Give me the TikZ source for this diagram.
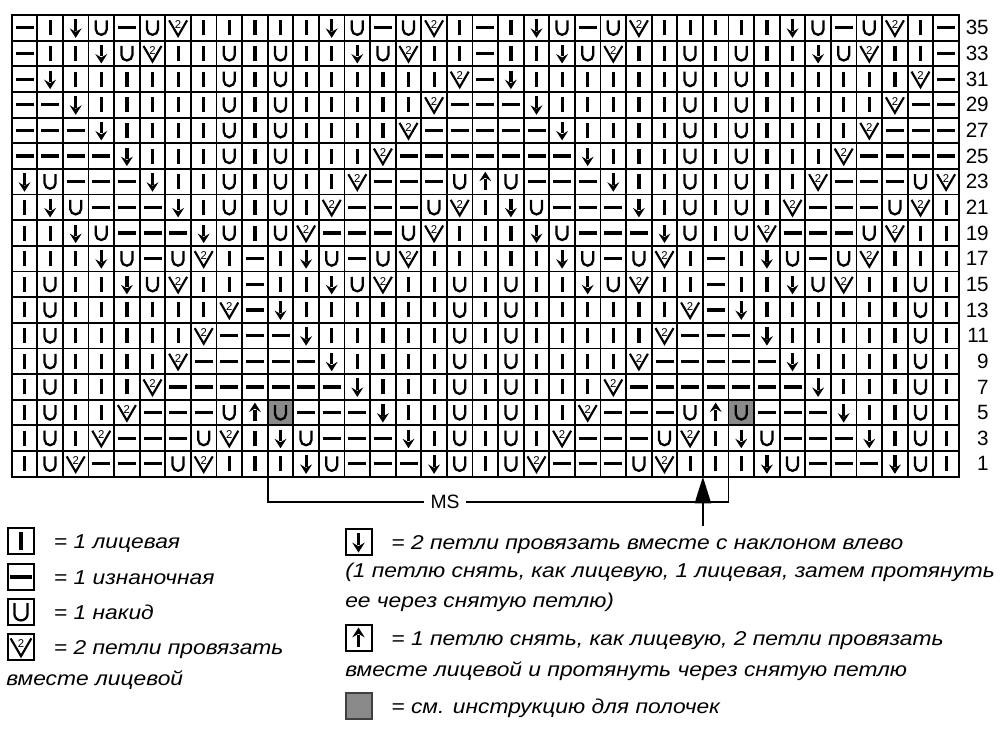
\documentclass[tikz,border=0pt]{standalone}
\usepackage{fontspec}
\setmainfont{Liberation Sans}
\newfontfamily\legendfont{Liberation Sans}[FakeStretch=1.14]
\usetikzlibrary{arrows.meta,positioning}
\definecolor{cellgray}{RGB}{138,138,138}

\begin{document}
\begin{tikzpicture}[x=0.75pt,y=0.75pt,
  gridline/.style={line width=1.4pt},
  knitline/.style={line width=2.4pt},
  yoline/.style={line width=1.7pt},
  decline/.style={line width=1.6pt},
  digit/.style={inner sep=0pt,font=\fontsize{8.5pt}{8.5pt}\selectfont},
  rownum/.style={anchor=east,inner sep=0pt,font=\fontsize{15.5pt}{15.5pt}\selectfont},
  mslabel/.style={inner xsep=5pt,inner ysep=0pt,font=\fontsize{14.5pt}{14.5pt}\selectfont},
  bracket/.style={line width=1.3pt},
  pointer/.style={line width=2pt,-{Triangle[length=20pt,width=12pt]}},
  legbox/.style={draw,line width=1.5pt,minimum size=19.5pt,inner sep=0pt},
  graybox/.style={legbox,fill=cellgray,draw=black!75},
  legtext/.style={inner sep=0pt,text height=10.7pt,text depth=0pt,
    font=\fontsize{15pt}{18pt}\legendfont\itshape},
  % stitch symbols
  stk/.pic={\draw[knitline] (0,-7.5) -- (0,7.5);},
  stp/.pic={\draw[knitline] (-9,0) -- (9,0);},
  sto/.pic={\draw[yoline] (-5.5,7.5) -- (-5.5,-1.5) arc[start angle=180,end angle=360,radius=5.5] -- (5.5,7.5);},
  std/.pic={\draw[knitline] (0,8.5) -- (0,-3); \fill (-6,-0.5) -- (0,-10) -- (6,-0.5) -- (0,-4) -- cycle;},
  stu/.pic={\draw[knitline] (0,-8.5) -- (0,3); \fill (-6,0.5) -- (0,10) -- (6,0.5) -- (0,4) -- cycle;},
  stv/.pic={\draw[decline] (-9,7.5) -- (0,-8) -- (9,7.5); \node[digit] (two) at (0,3.2) {2};},
  stg/.pic={\fill[cellgray] (-12.8,-12.8) rectangle (12.8,12.8); \pic {sto};}
]
\useasboundingbox (0,0) rectangle (1000,-744);
%
\foreach \r/\codes [count=\i] in {
  35/{p,k,d,o,p,o,v,k,k,k,k,k,d,o,p,o,v,k,p,k,d,o,p,o,v,k,k,k,k,k,d,o,p,o,v,k,p},
  33/{p,k,k,d,o,v,k,k,o,k,o,k,k,d,o,v,k,k,p,k,k,d,o,v,k,k,o,k,o,k,k,d,o,v,k,k,p},
  31/{p,d,k,k,k,k,k,k,o,k,o,k,k,k,k,k,k,v,p,d,k,k,k,k,k,k,o,k,o,k,k,k,k,k,k,v,p},
  29/{p,p,d,k,k,k,k,k,o,k,o,k,k,k,k,k,v,p,p,p,d,k,k,k,k,k,o,k,o,k,k,k,k,k,v,p,p},
  27/{p,p,p,d,k,k,k,k,o,k,o,k,k,k,k,v,p,p,p,p,p,d,k,k,k,k,o,k,o,k,k,k,k,v,p,p,p},
  25/{p,p,p,p,d,k,k,k,o,k,o,k,k,k,v,p,p,p,p,p,p,p,d,k,k,k,o,k,o,k,k,k,v,p,p,p,p},
  23/{d,o,p,p,p,d,k,k,o,k,o,k,k,v,p,p,p,o,u,o,p,p,p,d,k,k,o,k,o,k,k,v,p,p,p,o,v},
  21/{k,d,o,p,p,p,d,k,o,k,o,k,v,p,p,p,o,v,k,d,o,p,p,p,d,k,o,k,o,k,v,p,p,p,o,v,k},
  19/{k,k,d,o,p,p,p,d,o,k,o,v,p,p,p,o,v,k,k,k,d,o,p,p,p,d,o,k,o,v,p,p,p,o,v,k,k},
  17/{k,k,k,d,o,p,o,v,k,p,k,d,o,p,o,v,k,k,k,k,k,d,o,p,o,v,k,p,k,d,o,p,o,v,k,k,k},
  15/{k,o,k,k,d,o,v,k,k,p,k,k,d,o,v,k,k,o,k,o,k,k,d,o,v,k,k,p,k,k,d,o,v,k,k,o,k},
  13/{k,o,k,k,k,k,k,k,v,p,d,k,k,k,k,k,k,o,k,o,k,k,k,k,k,k,v,p,d,k,k,k,k,k,k,o,k},
  11/{k,o,k,k,k,k,k,v,p,p,p,d,k,k,k,k,k,o,k,o,k,k,k,k,k,v,p,p,p,d,k,k,k,k,k,o,k},
  9/{k,o,k,k,k,k,v,p,p,p,p,p,d,k,k,k,k,o,k,o,k,k,k,k,v,p,p,p,p,p,d,k,k,k,k,o,k},
  7/{k,o,k,k,k,v,p,p,p,p,p,p,p,d,k,k,k,o,k,o,k,k,k,v,p,p,p,p,p,p,p,d,k,k,k,o,k},
  5/{k,o,k,k,v,p,p,p,o,u,g,p,p,p,d,k,k,o,k,o,k,k,v,p,p,p,o,u,g,p,p,p,d,k,k,o,k},
  3/{k,o,k,v,p,p,p,o,v,k,d,o,p,p,p,d,k,o,k,o,k,v,p,p,p,o,v,k,d,o,p,p,p,d,k,o,k},
  1/{k,o,v,p,p,p,o,v,k,k,k,d,o,p,p,p,d,o,k,o,v,p,p,p,o,v,k,k,k,d,o,p,p,p,d,o,k}} {
  \node[rownum] (n\r) at (989,{-15-(\i-0.5)*25.65}) {\r};
  \foreach \s [count=\c] in \codes
    \pic (c\r-\c) at ({11.7+(\c-0.5)*25.6},{-15-(\i-0.5)*25.65}) {st\s};
}
%
\foreach \c in {0,...,37}
  \draw[gridline] ({11.7+\c*25.6},-15) -- ++(0,-461.7);
\foreach \i in {0,...,18}
  \draw[gridline] (11.7,{-15-\i*25.65}) -- ++(947.2,0);
\draw[gridline,line width=1.6pt] (11.7,-15) rectangle (958.9,-476.7);
%
\coordinate (msL) at (267.7,-476.7);
\coordinate (msR) at (728.5,-476.7);
\node[mslabel] (ms) at (445,-502) {MS};
\draw[bracket] (msL) |- (ms.west);
\draw[bracket] (ms.east) -| (msR);
\coordinate (arrTail) at (702.9,-526);
\coordinate (arrTip) at (702.9,-476.7);
\draw[pointer] (arrTail) -- (arrTip);
%
\node[legbox] (keyK) at (21,-541) {};
\pic[scale=1.25] (keyKsym) at (keyK) {stk};
\node[legtext,anchor=west,right=14pt of keyK] (keyKtext) {= 1 лицевая};
\node[legbox] (keyP) at (21,-577) {};
\pic[scale=1.2] (keyPsym) at (keyP) {stp};
\node[legtext,anchor=west,right=14pt of keyP] (keyPtext) {= 1 изнаночная};
\node[legbox] (keyO) at (21,-612) {};
\pic[scale=1.2] (keyOsym) at (keyO) {sto};
\node[legtext,anchor=west,right=14pt of keyO] (keyOtext) {= 1 накид};
\node[legbox] (keyV) at (21,-647) {};
\pic[scale=1.15] (keyVsym) at (keyV) {stv};
\node[legtext,anchor=west,right=14pt of keyV] (keyVtext) {= 2 петли провязать};
\node[legtext,anchor=west] (keyVtext2) at (6,-678) {вместе лицевой};
%
\node[legbox] (keyD) at (358.5,-542) {};
\pic[scale=1.05] (keyDsym) at (keyD) {std};
\node[legtext,anchor=west,right=14pt of keyD] (keyDtext) {= 2 петли провязать вместе с наклоном влево};
\node[legtext,anchor=west] (keyDtext2) at (345,-570.2) {(1 петлю снять, как лицевую, 1 лицевая, затем протянуть};
\node[legtext,anchor=west] (keyDtext3) at (345,-600.2) {ее через снятую петлю)};
\node[legbox] (keyU) at (358.5,-638) {};
\pic[scale=1.05] (keyUsym) at (keyU) {stu};
\node[legtext,anchor=west,right=14pt of keyU] (keyUtext) {= 1 петлю снять, как лицевую, 2 петли провязать};
\node[legtext,anchor=west] (keyUtext2) at (345,-669) {вместе лицевой и протянуть через снятую петлю};
\node[graybox] (keyG) at (358.5,-706) {};
\node[legtext,anchor=west,right=14pt of keyG] (keyGtext) {= см. инструкцию для полочек};
%
\end{tikzpicture}
\end{document}
